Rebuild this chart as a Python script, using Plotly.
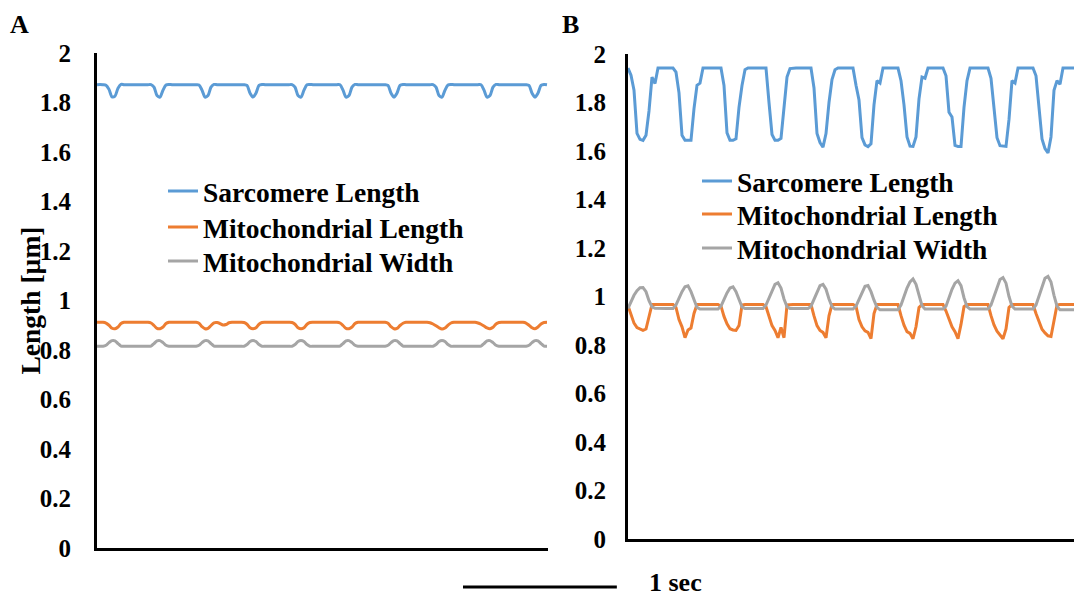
import plotly.graph_objects as go

# ---------------- data ----------------
SAMPLE_INTERVAL_S = 0.0195  # time between samples (s)
SERIES_NAMES = ["Sarcomere Length", "Mitochondrial Length", "Mitochondrial Width"]
COLORS = ["#5B9BD5", "#ED7D31", "#A5A5A5"]
Y_TICKS = [0, 0.2, 0.4, 0.6, 0.8, 1, 1.2, 1.4, 1.6, 1.8, 2]
Y_TICK_TEXT = ["0", "0.2", "0.4", "0.6", "0.8", "1", "1.2", "1.4", "1.6", "1.8", "2"]
SCALE_BAR_S = 1.0
SCALE_BAR_LABEL = "1 sec"

# Panel A (resting)
a_sarcomere = [
    1.872, 1.873, 1.872, 1.870, 1.853, 1.823, 1.826, 1.858, 1.873, 1.872,
    1.872, 1.872, 1.872, 1.872, 1.872, 1.872, 1.872, 1.872, 1.872, 1.862,
    1.828, 1.822, 1.850, 1.871, 1.873, 1.872, 1.872, 1.872, 1.872, 1.872,
    1.872, 1.872, 1.872, 1.872, 1.871, 1.850, 1.822, 1.828, 1.862, 1.873,
    1.872, 1.872, 1.872, 1.872, 1.872, 1.872, 1.872, 1.872, 1.872, 1.872,
    1.869, 1.838, 1.822, 1.838, 1.869, 1.873, 1.872, 1.872, 1.872, 1.872,
    1.872, 1.872, 1.872, 1.872, 1.872, 1.872, 1.862, 1.828, 1.822, 1.850,
    1.872, 1.873, 1.872, 1.872, 1.872, 1.872, 1.872, 1.872, 1.872, 1.872,
    1.872, 1.872, 1.850, 1.822, 1.828, 1.862, 1.873, 1.872, 1.872, 1.872,
    1.872, 1.872, 1.872, 1.872, 1.872, 1.872, 1.872, 1.869, 1.838, 1.822,
    1.838, 1.869, 1.873, 1.872, 1.872, 1.872, 1.872, 1.872, 1.872, 1.872,
    1.872, 1.872, 1.872, 1.862, 1.828, 1.822, 1.850, 1.871, 1.873, 1.872,
    1.872, 1.872, 1.872, 1.872, 1.872, 1.872, 1.872, 1.872, 1.872, 1.850,
    1.822, 1.828, 1.862, 1.873, 1.872, 1.872, 1.872, 1.872, 1.872, 1.872,
    1.872, 1.872, 1.872, 1.872, 1.869, 1.838, 1.822, 1.838, 1.869, 1.873,
    1.872,
]
a_mito_length = [
    0.912, 0.912, 0.912, 0.909, 0.900, 0.888, 0.886, 0.893, 0.907, 0.912,
    0.912, 0.912, 0.912, 0.912, 0.912, 0.912, 0.912, 0.912, 0.909, 0.899,
    0.887, 0.886, 0.893, 0.907, 0.912, 0.912, 0.912, 0.912, 0.912, 0.912,
    0.912, 0.912, 0.912, 0.912, 0.908, 0.894, 0.886, 0.887, 0.899, 0.910,
    0.911, 0.907, 0.901, 0.903, 0.910, 0.912, 0.912, 0.912, 0.912, 0.911,
    0.904, 0.890, 0.886, 0.890, 0.904, 0.911, 0.912, 0.912, 0.912, 0.912,
    0.912, 0.912, 0.912, 0.912, 0.912, 0.911, 0.904, 0.890, 0.886, 0.890,
    0.904, 0.911, 0.912, 0.912, 0.912, 0.912, 0.912, 0.912, 0.912, 0.912,
    0.912, 0.909, 0.899, 0.887, 0.886, 0.893, 0.907, 0.912, 0.912, 0.912,
    0.912, 0.912, 0.912, 0.912, 0.912, 0.912, 0.912, 0.908, 0.894, 0.886,
    0.887, 0.899, 0.908, 0.912, 0.912, 0.912, 0.912, 0.912, 0.912, 0.912,
    0.912, 0.910, 0.905, 0.898, 0.890, 0.885, 0.889, 0.900, 0.909, 0.912,
    0.912, 0.912, 0.912, 0.912, 0.912, 0.912, 0.912, 0.909, 0.904, 0.897,
    0.889, 0.886, 0.892, 0.905, 0.911, 0.912, 0.912, 0.912, 0.912, 0.912,
    0.912, 0.912, 0.912, 0.909, 0.900, 0.890, 0.886, 0.893, 0.905, 0.911,
    0.912,
]
a_mito_width = [
    0.815, 0.815, 0.815, 0.819, 0.830, 0.838, 0.837, 0.826, 0.816, 0.815,
    0.815, 0.815, 0.815, 0.815, 0.815, 0.815, 0.815, 0.815, 0.816, 0.826,
    0.837, 0.838, 0.830, 0.819, 0.815, 0.815, 0.815, 0.815, 0.815, 0.815,
    0.815, 0.815, 0.815, 0.815, 0.819, 0.830, 0.838, 0.837, 0.826, 0.816,
    0.815, 0.815, 0.815, 0.815, 0.815, 0.815, 0.815, 0.815, 0.815, 0.815,
    0.822, 0.834, 0.838, 0.834, 0.822, 0.815, 0.815, 0.815, 0.815, 0.815,
    0.815, 0.815, 0.815, 0.815, 0.815, 0.815, 0.822, 0.834, 0.838, 0.834,
    0.822, 0.815, 0.815, 0.815, 0.815, 0.815, 0.815, 0.815, 0.815, 0.815,
    0.815, 0.816, 0.826, 0.837, 0.838, 0.830, 0.819, 0.815, 0.815, 0.815,
    0.815, 0.815, 0.815, 0.815, 0.815, 0.815, 0.815, 0.819, 0.830, 0.838,
    0.837, 0.826, 0.816, 0.815, 0.815, 0.815, 0.815, 0.815, 0.815, 0.815,
    0.815, 0.815, 0.815, 0.822, 0.834, 0.838, 0.834, 0.822, 0.815, 0.815,
    0.815, 0.815, 0.815, 0.815, 0.815, 0.815, 0.815, 0.815, 0.816, 0.826,
    0.837, 0.838, 0.830, 0.819, 0.815, 0.815, 0.815, 0.815, 0.815, 0.815,
    0.815, 0.815, 0.815, 0.815, 0.819, 0.830, 0.838, 0.837, 0.826, 0.816,
    0.815,
]

# Panel B (contracting)
b_sarcomere = [
    1.942, 1.913, 1.851, 1.673, 1.648, 1.644, 1.665, 1.765, 1.905, 1.878,
    1.942, 1.942, 1.942, 1.942, 1.942, 1.942, 1.925, 1.840, 1.665, 1.644,
    1.644, 1.644, 1.775, 1.871, 1.880, 1.942, 1.942, 1.942, 1.942, 1.942,
    1.942, 1.942, 1.870, 1.675, 1.644, 1.644, 1.650, 1.780, 1.870, 1.935,
    1.942, 1.942, 1.942, 1.942, 1.942, 1.942, 1.942, 1.800, 1.668, 1.644,
    1.644, 1.652, 1.780, 1.905, 1.940, 1.942, 1.942, 1.942, 1.942, 1.942,
    1.942, 1.942, 1.860, 1.672, 1.635, 1.616, 1.672, 1.800, 1.895, 1.935,
    1.942, 1.942, 1.942, 1.942, 1.942, 1.942, 1.871, 1.810, 1.655, 1.625,
    1.618, 1.630, 1.790, 1.890, 1.880, 1.942, 1.942, 1.942, 1.942, 1.942,
    1.942, 1.890, 1.790, 1.658, 1.620, 1.619, 1.658, 1.815, 1.905, 1.900,
    1.942, 1.942, 1.942, 1.942, 1.942, 1.942, 1.910, 1.760, 1.740, 1.623,
    1.619, 1.619, 1.780, 1.890, 1.942, 1.942, 1.942, 1.942, 1.942, 1.942,
    1.942, 1.900, 1.790, 1.655, 1.622, 1.619, 1.619, 1.730, 1.890, 1.880,
    1.942, 1.942, 1.942, 1.942, 1.942, 1.942, 1.910, 1.790, 1.650, 1.610,
    1.592, 1.658, 1.850, 1.890, 1.875, 1.942, 1.942, 1.942, 1.942, 1.942,
]
b_mito_length = [
    0.962, 0.930, 0.890, 0.872, 0.866, 0.860, 0.866, 0.920, 0.967, 0.967,
    0.967, 0.968, 0.967, 0.967, 0.966, 0.967, 0.955, 0.905, 0.875, 0.830,
    0.862, 0.870, 0.930, 0.967, 0.967, 0.968, 0.967, 0.967, 0.967, 0.966,
    0.967, 0.960, 0.918, 0.887, 0.867, 0.862, 0.860, 0.880, 0.965, 0.967,
    0.967, 0.967, 0.968, 0.967, 0.967, 0.967, 0.958, 0.918, 0.880, 0.860,
    0.830, 0.872, 0.830, 0.965, 0.967, 0.967, 0.967, 0.966, 0.967, 0.967,
    0.967, 0.967, 0.920, 0.880, 0.860, 0.852, 0.830, 0.920, 0.967, 0.967,
    0.967, 0.968, 0.967, 0.967, 0.967, 0.967, 0.960, 0.905, 0.875, 0.858,
    0.852, 0.826, 0.930, 0.967, 0.967, 0.967, 0.967, 0.968, 0.967, 0.967,
    0.967, 0.921, 0.882, 0.855, 0.848, 0.826, 0.875, 0.955, 0.967, 0.967,
    0.967, 0.967, 0.966, 0.967, 0.967, 0.967, 0.940, 0.905, 0.875, 0.855,
    0.826, 0.885, 0.958, 0.967, 0.967, 0.967, 0.968, 0.967, 0.967, 0.967,
    0.967, 0.921, 0.883, 0.857, 0.843, 0.826, 0.866, 0.955, 0.967, 0.967,
    0.967, 0.967, 0.967, 0.968, 0.967, 0.967, 0.930, 0.895, 0.865, 0.850,
    0.838, 0.835, 0.900, 0.965, 0.967, 0.967, 0.967, 0.967, 0.967, 0.967,
]
b_mito_width = [
    0.951, 0.980, 1.005, 1.024, 1.036, 1.037, 1.020, 0.983, 0.957, 0.951,
    0.950, 0.950, 0.950, 0.950, 0.950, 0.950, 0.965, 0.995, 1.020, 1.040,
    1.044, 1.020, 0.985, 0.955, 0.948, 0.948, 0.948, 0.948, 0.948, 0.948,
    0.948, 0.960, 0.990, 1.015, 1.035, 1.040, 1.020, 0.985, 0.957, 0.950,
    0.950, 0.950, 0.950, 0.950, 0.950, 0.950, 0.965, 0.995, 1.025, 1.050,
    1.057, 1.035, 0.990, 0.958, 0.950, 0.950, 0.950, 0.950, 0.950, 0.950,
    0.950, 0.960, 0.990, 1.020, 1.045, 1.050, 1.030, 0.990, 0.958, 0.948,
    0.948, 0.948, 0.948, 0.948, 0.948, 0.948, 0.960, 0.990, 1.020, 1.042,
    1.045, 1.020, 0.985, 0.955, 0.945, 0.945, 0.945, 0.945, 0.945, 0.945,
    0.945, 0.965, 1.000, 1.035, 1.060, 1.072, 1.050, 1.000, 0.962, 0.948,
    0.948, 0.948, 0.948, 0.948, 0.948, 0.948, 0.960, 0.995, 1.030, 1.055,
    1.065, 1.045, 0.995, 0.958, 0.948, 0.948, 0.948, 0.948, 0.948, 0.948,
    0.948, 0.965, 1.000, 1.040, 1.070, 1.078, 1.055, 1.000, 0.960, 0.948,
    0.948, 0.948, 0.948, 0.948, 0.948, 0.948, 0.965, 1.005, 1.045, 1.075,
    1.083, 1.060, 1.005, 0.960, 0.945, 0.945, 0.945, 0.945, 0.945, 0.945,
]

# ---------------- layout constants (pixels) ----------------
W, H = 1074, 598
FONT = "Liberation Serif"
PX_PER_S = 3.0 / SAMPLE_INTERVAL_S  # horizontal scale shared by both panels


def px_x(p):
    return p / W


def px_y(p):
    return (H - p) / H


A_LEFT, A_RIGHT, A_TOP, A_BOTTOM = 97, 548, 53, 548
B_LEFT, B_RIGHT, B_TOP, B_BOTTOM = 628, 1074, 54, 539
A_LEGEND_X, A_LEGEND_ROWS = 163, [191, 227, 261]
B_LEGEND_X, B_LEGEND_ROWS = 697, [181, 214, 248]

fig = go.Figure()

panel_a = [a_sarcomere, a_mito_length, a_mito_width]
panel_b = [b_sarcomere, b_mito_length, b_mito_width]

legend_font = dict(family=FONT, size=27.5, color="black", weight="bold")
legend_layouts = {}

for k, (name, color, vals) in enumerate(zip(SERIES_NAMES, COLORS, panel_a)):
    t = [i * SAMPLE_INTERVAL_S for i in range(len(vals))]
    lg = "legend" if k == 0 else f"legend{k + 1}"
    fig.add_trace(go.Scatter(
        x=t, y=vals, mode="lines", name=name,
        line=dict(color=color, width=3, shape="spline", smoothing=0.8),
        xaxis="x", yaxis="y", legend=lg,
    ))
    legend_layouts[lg] = dict(x=px_x(A_LEGEND_X), y=px_y(A_LEGEND_ROWS[k]),
                              xanchor="left", yanchor="middle")

for k, (name, color, vals) in enumerate(zip(SERIES_NAMES, COLORS, panel_b)):
    t = [i * SAMPLE_INTERVAL_S for i in range(len(vals))]
    lg = f"legend{k + 4}"
    fig.add_trace(go.Scatter(
        x=t, y=vals, mode="lines", name=name,
        line=dict(color=color, width=3),
        xaxis="x2", yaxis="y2", legend=lg,
    ))
    legend_layouts[lg] = dict(x=px_x(B_LEGEND_X), y=px_y(B_LEGEND_ROWS[k]),
                              xanchor="left", yanchor="middle")

for lg, pos in legend_layouts.items():
    pos.update(font=legend_font, bgcolor="rgba(0,0,0,0)", itemwidth=30,
               tracegroupgap=0, itemclick=False, itemdoubleclick=False)

tick_font = dict(family=FONT, size=25, color="black", weight="bold")
axis_common = dict(showgrid=False, zeroline=False, showline=True, linecolor="black",
                   linewidth=3, ticks="", fixedrange=True, automargin=False)

fig.update_layout(
    width=W, height=H,
    margin=dict(l=0, r=0, t=0, b=0, autoexpand=False),
    paper_bgcolor="white", plot_bgcolor="white",
    showlegend=True,
    xaxis=dict(domain=[px_x(A_LEFT), px_x(A_RIGHT)],
               range=[0, (A_RIGHT - A_LEFT) / PX_PER_S],
               showticklabels=False, anchor="y", **axis_common),
    yaxis=dict(domain=[px_y(A_BOTTOM), px_y(A_TOP)], range=[0, 2],
               tickvals=Y_TICKS, ticktext=Y_TICK_TEXT, tickfont=tick_font,
               ticklabelstandoff=18, anchor="x", **axis_common),
    xaxis2=dict(domain=[px_x(B_LEFT), px_x(B_RIGHT)],
                range=[0, (B_RIGHT - B_LEFT) / PX_PER_S],
                showticklabels=False, anchor="y2", **axis_common),
    yaxis2=dict(domain=[px_y(B_BOTTOM), px_y(B_TOP)], range=[0, 2],
                tickvals=Y_TICKS, ticktext=Y_TICK_TEXT, tickfont=tick_font,
                ticklabelstandoff=14, anchor="x2", **axis_common),
    **legend_layouts,
)

label_font = dict(family=FONT, size=26, color="black", weight="bold")
fig.add_annotation(x=px_x(8), y=px_y(25), xref="paper", yref="paper", text="A",
                   showarrow=False, xanchor="left", yanchor="middle", font=label_font)
fig.add_annotation(x=px_x(560), y=px_y(25), xref="paper", yref="paper", text="B",
                   showarrow=False, xanchor="left", yanchor="middle", font=label_font)
fig.add_annotation(x=px_x(30), y=px_y((A_TOP + A_BOTTOM) / 2), xref="paper", yref="paper",
                   text="Length [µm]", textangle=-90, showarrow=False,
                   xanchor="center", yanchor="middle",
                   font=dict(family=FONT, size=27.5, color="black", weight="bold"))

# 1-second scale bar
SCALE_BAR_LEFT = 463
fig.add_shape(type="line", xref="paper", yref="paper",
              x0=px_x(SCALE_BAR_LEFT), x1=px_x(SCALE_BAR_LEFT + PX_PER_S * SCALE_BAR_S),
              y0=px_y(587), y1=px_y(587), line=dict(color="black", width=3))
fig.add_annotation(x=px_x(648), y=px_y(598), xref="paper", yref="paper", text=SCALE_BAR_LABEL,
                   showarrow=False, xanchor="left", yanchor="bottom", font=label_font,
                   borderpad=0)

fig.write_html("out.html", config={"displayModeBar": False},
               post_script="document.body.style.margin='0';document.body.style.overflow='hidden';")
